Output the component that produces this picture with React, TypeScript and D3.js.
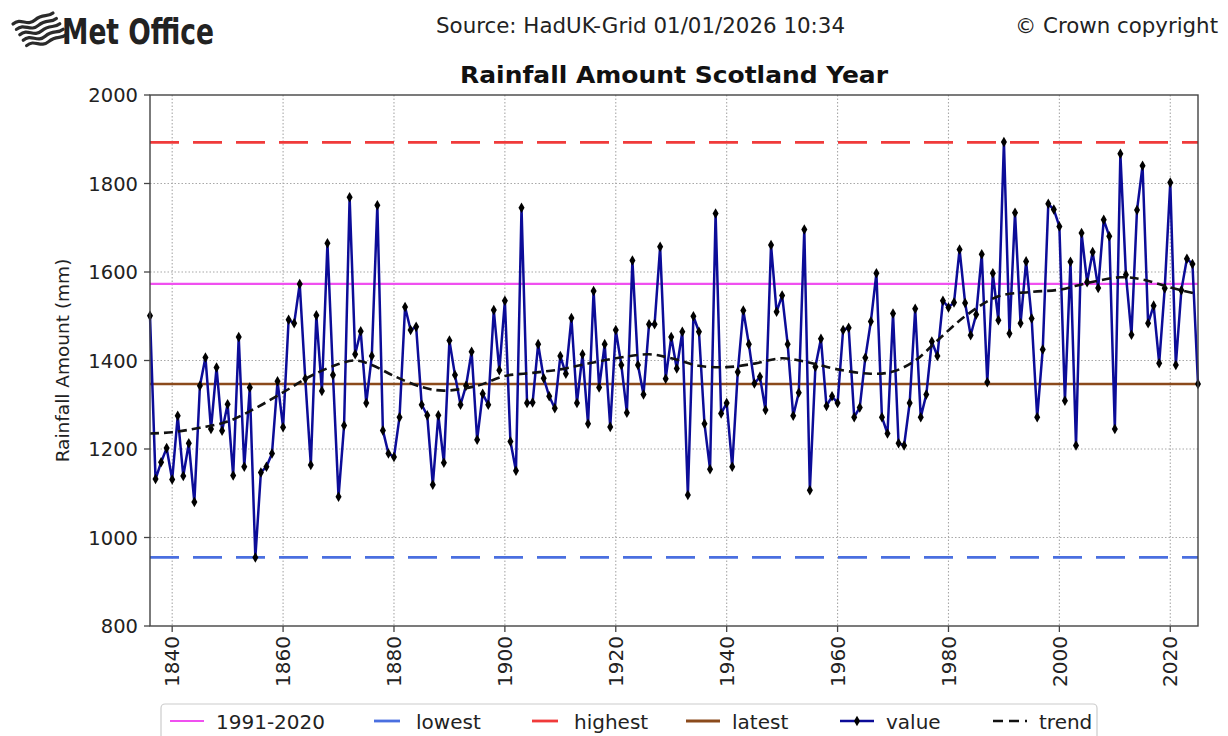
import React from 'react';
import * as d3 from 'd3';

// ---------- DATA ----------
const startYear = 1836;
const rainfall: number[] = [
  // 1836-1845
  1501, 1132, 1170, 1202, 1131, 1275, 1139, 1213, 1080, 1343,
  // 1846-1855
  1407, 1245, 1384, 1241, 1301, 1140, 1453, 1160, 1339, 955,
  // 1856-1865
  1147, 1160, 1190, 1353, 1249, 1492, 1484, 1573, 1359, 1164,
  // 1866-1875
  1502, 1331, 1665, 1367, 1092, 1253, 1769, 1414, 1466, 1304,
  // 1876-1885
  1410, 1751, 1242, 1190, 1182, 1272, 1521, 1469, 1476, 1300,
  // 1886-1895
  1276, 1119, 1276, 1169, 1445, 1367, 1300, 1343, 1420, 1221,
  // 1896-1905
  1325, 1300, 1514, 1378, 1535, 1217, 1151, 1745, 1304, 1305,
  // 1906-1915
  1437, 1360, 1319, 1292, 1410, 1370, 1496, 1304, 1414, 1257,
  // 1916-1925
  1557, 1339, 1437, 1250, 1469, 1390, 1282, 1626, 1390, 1323,
  // 1926-1935
  1482, 1482, 1657, 1359, 1453, 1382, 1465, 1096, 1500, 1465,
  // 1936-1945
  1257, 1154, 1732, 1280, 1304, 1160, 1374, 1513, 1437, 1348,
  // 1946-1955
  1363, 1288, 1661, 1510, 1547, 1437, 1275, 1327, 1696, 1107,
  // 1956-1965
  1386, 1449, 1297, 1319, 1304, 1469, 1474, 1272, 1294, 1406,
  // 1966-1975
  1488, 1597, 1272, 1235, 1506, 1213, 1208, 1304, 1517, 1272,
  // 1976-1985
  1323, 1443, 1410, 1535, 1520, 1531, 1651, 1530, 1457, 1504,
  // 1986-1995
  1640, 1351, 1597, 1491, 1894, 1461, 1734, 1484, 1624, 1495,
  // 1996-2005
  1272, 1425, 1754, 1741, 1703, 1309, 1623, 1208, 1688, 1577,
  // 2006-2015
  1645, 1564, 1718, 1681, 1245, 1867, 1594, 1458, 1740, 1840,
  // 2016-2025
  1484, 1524, 1394, 1563, 1802, 1390, 1559, 1630, 1618, 1347,
];
const years: number[] = rainfall.map((_, i) => startYear + i);

const trendYears: number[] = [1836, 1840, 1845, 1850, 1855, 1860, 1865, 1870, 1873, 1876, 1880, 1885, 1889, 1895, 1900, 1905, 1910, 1915, 1920, 1926, 1930, 1935, 1940, 1945, 1950, 1955, 1960, 1966, 1970, 1974, 1978, 1983, 1989, 1995, 2000, 2005, 2011, 2015, 2020, 2025];
const trendValues: number[] = [1235, 1238, 1248, 1262, 1292, 1328, 1365, 1392, 1400, 1390, 1365, 1340, 1332, 1343, 1365, 1372, 1380, 1393, 1405, 1414, 1405, 1388, 1385, 1393, 1405, 1395, 1380, 1370, 1375, 1400, 1445, 1500, 1545, 1555, 1560, 1575, 1588, 1583, 1565, 1550];

const avg19912020 = 1573;
const lowestValue = 955;
const highestValue = 1893;
const latestValue = 1347;

const yTicks: number[] = [800, 1000, 1200, 1400, 1600, 1800, 2000];
const xTicks: number[] = [1840, 1860, 1880, 1900, 1920, 1940, 1960, 1980, 2000, 2020];
const legendLabels: string[] = ['1991-2020', 'lowest', 'highest', 'latest', 'value', 'trend'];

// ---------- STYLE ----------
const W = 1228, H = 736;
const plot = { left: 150, right: 1198, top: 95, bottom: 626 };
const C = {
  avg: '#f050f0',
  lowest: '#4a6fe0',
  highest: '#f03a3a',
  latest: '#8b4a1c',
  value: '#0c0c98',
  trend: '#111111',
  grid: '#a8a8a8',
  frame: '#444444',
};
const font = "'DejaVu Sans', sans-serif";
const fontCond = "'DejaVu Sans Condensed', 'DejaVu Sans', sans-serif";

export default function App() {
  const x = d3.scaleLinear().domain([startYear, startYear + rainfall.length - 1]).range([plot.left, plot.right]);
  const y = d3.scaleLinear().domain([800, 2000]).range([plot.bottom, plot.top]);

  const valueLine = d3.line<number>().x((_, i) => x(years[i])).y((d) => y(d))(rainfall) || '';
  const trendLine = d3.line<number>().curve(d3.curveCatmullRom.alpha(0.5)).x((_, i) => x(trendYears[i])).y((d) => y(d))(trendValues) || '';
  const diamond = d3.symbol().type(d3.symbolDiamond).size(32)() || '';

  const refs = [
    { v: avg19912020, c: C.avg, dash: undefined as string | undefined, w: 2.2 },
    { v: lowestValue, c: C.lowest, dash: '29,14', w: 2.8 },
    { v: highestValue, c: C.highest, dash: '29,14', w: 2.8 },
    { v: latestValue, c: C.latest, dash: undefined, w: 2.6 },
  ];

  const legendX = [170, 370, 528, 686, 840, 993];

  // Met Office logo stripes
  const logoStripes = d3.range(5).map((i) => {
    const ox = 13 + i * 3.4;
    const oy = 20 + i * 5.4;
    return `M${ox},${oy + 4} C${ox + 8},${oy - 3} ${ox + 14},${oy + 7} ${ox + 22},${oy} S${ox + 34},${oy - 2} ${ox + 40},${oy - 7}`;
  });

  return (
    <svg width={W} height={H} style={{ position: 'absolute', left: 0, top: 0, background: '#fff' }} xmlns="http://www.w3.org/2000/svg">
      <rect x={0} y={0} width={W} height={H} fill="#fff" />

      {/* Header */}
      <g>
        {logoStripes.map((d, i) => (
          <path key={i} d={d} fill="none" stroke="#2b2b2b" strokeWidth={3.2} strokeLinecap="round" />
        ))}
        <text x={62} y={44} fontFamily={fontCond} fontWeight="bold" fontSize={35} fill="#222" textLength={152} lengthAdjust="spacingAndGlyphs">Met Office</text>
        <text x={436} y={33} fontFamily={fontCond} fontSize={21} fill="#222" textLength={409} lengthAdjust="spacingAndGlyphs">Source: HadUK-Grid 01/01/2026 10:34</text>
        <text x={1218} y={33} textAnchor="end" fontFamily={fontCond} fontSize={21} fill="#222" textLength={203} lengthAdjust="spacingAndGlyphs">© Crown copyright</text>
        <text x={(plot.left + plot.right) / 2} y={83} textAnchor="middle" fontFamily={fontCond} fontWeight="bold" fontSize={23} fill="#111" textLength={428} lengthAdjust="spacingAndGlyphs">Rainfall Amount Scotland Year</text>
      </g>

      {/* Grid */}
      <g>
        {yTicks.filter((t) => t > 800 && t < 2000).map((t) => (
          <line key={'gy' + t} x1={plot.left} x2={plot.right} y1={y(t)} y2={y(t)} stroke={C.grid} strokeWidth={1.1} strokeDasharray="1.5,2" />
        ))}
        {xTicks.map((t) => (
          <line key={'gx' + t} x1={x(t)} x2={x(t)} y1={plot.top} y2={plot.bottom} stroke={C.grid} strokeWidth={1.1} strokeDasharray="1.5,2" />
        ))}
      </g>

      {/* Reference lines */}
      {refs.map((r, i) => (
        <line key={'ref' + i} x1={plot.left} x2={plot.right} y1={y(r.v)} y2={y(r.v)} stroke={r.c} strokeWidth={r.w} strokeDasharray={r.dash} />
      ))}

      {/* Value series */}
      <path d={valueLine} fill="none" stroke={C.value} strokeWidth={2.5} strokeLinejoin="round" />
      {rainfall.map((v, i) => (
        <path key={'m' + i} d={diamond} transform={`translate(${x(years[i])},${y(v)})`} fill="#000" />
      ))}

      {/* Trend */}
      <path d={trendLine} fill="none" stroke={C.trend} strokeWidth={2.6} strokeDasharray="9,5" />

      {/* Frame */}
      <rect x={plot.left} y={plot.top} width={plot.right - plot.left} height={plot.bottom - plot.top} fill="none" stroke={C.frame} strokeWidth={1.4} />

      {/* Y axis */}
      <g>
        {yTicks.map((t) => (
          <g key={'yt' + t}>
            <line x1={plot.left - 6} x2={plot.left} y1={y(t)} y2={y(t)} stroke={C.frame} strokeWidth={1.3} />
            <text x={plot.left - 12} y={y(t)} dy="0.36em" textAnchor="end" fontFamily={font} fontSize={19.5} fill="#222">{t}</text>
          </g>
        ))}
        <text transform={`translate(69,${(plot.top + plot.bottom) / 2}) rotate(-90)`} textAnchor="middle" fontFamily={font} fontSize={18.5} fill="#222">Rainfall Amount (mm)</text>
      </g>

      {/* X axis */}
      <g>
        {xTicks.map((t) => (
          <g key={'xt' + t}>
            <line x1={x(t)} x2={x(t)} y1={plot.bottom} y2={plot.bottom + 6} stroke={C.frame} strokeWidth={1.3} />
            <text transform={`translate(${x(t)},${plot.bottom + 10}) rotate(-90)`} dy="0.36em" textAnchor="end" fontFamily={font} fontSize={20} fill="#222">{t}</text>
          </g>
        ))}
      </g>

      {/* Legend */}
      <g>
        <rect x={161} y={704} width={936} height={46} rx={4} fill="#fff" stroke="#cccccc" strokeWidth={1.2} />
        {legendLabels.map((lab, i) => {
          const lx = legendX[i];
          const ly = 721;
          let handle: React.ReactNode = null;
          if (i === 0) handle = <line x1={lx} x2={lx + 34} y1={ly} y2={ly} stroke={C.avg} strokeWidth={2.2} />;
          if (i === 1) handle = <line x1={lx} x2={lx + 34} y1={ly} y2={ly} stroke={C.lowest} strokeWidth={2.8} strokeDasharray="26,14" strokeDashoffset={-4} />;
          if (i === 2) handle = <line x1={lx} x2={lx + 34} y1={ly} y2={ly} stroke={C.highest} strokeWidth={2.8} strokeDasharray="26,14" strokeDashoffset={-4} />;
          if (i === 3) handle = <line x1={lx} x2={lx + 34} y1={ly} y2={ly} stroke={C.latest} strokeWidth={2.8} />;
          if (i === 4) handle = (
            <g>
              <line x1={lx} x2={lx + 34} y1={ly} y2={ly} stroke={C.value} strokeWidth={2.5} />
              <path d={diamond} transform={`translate(${lx + 17},${ly})`} fill="#000" />
            </g>
          );
          if (i === 5) handle = <line x1={lx} x2={lx + 34} y1={ly} y2={ly} stroke={C.trend} strokeWidth={2.6} strokeDasharray="10,6" />;
          return (
            <g key={lab}>
              {handle}
              <text x={lx + 46} y={ly + 7.5} fontFamily={font} fontSize={20} fill="#222">{lab}</text>
            </g>
          );
        })}
      </g>
    </svg>
  );
}
